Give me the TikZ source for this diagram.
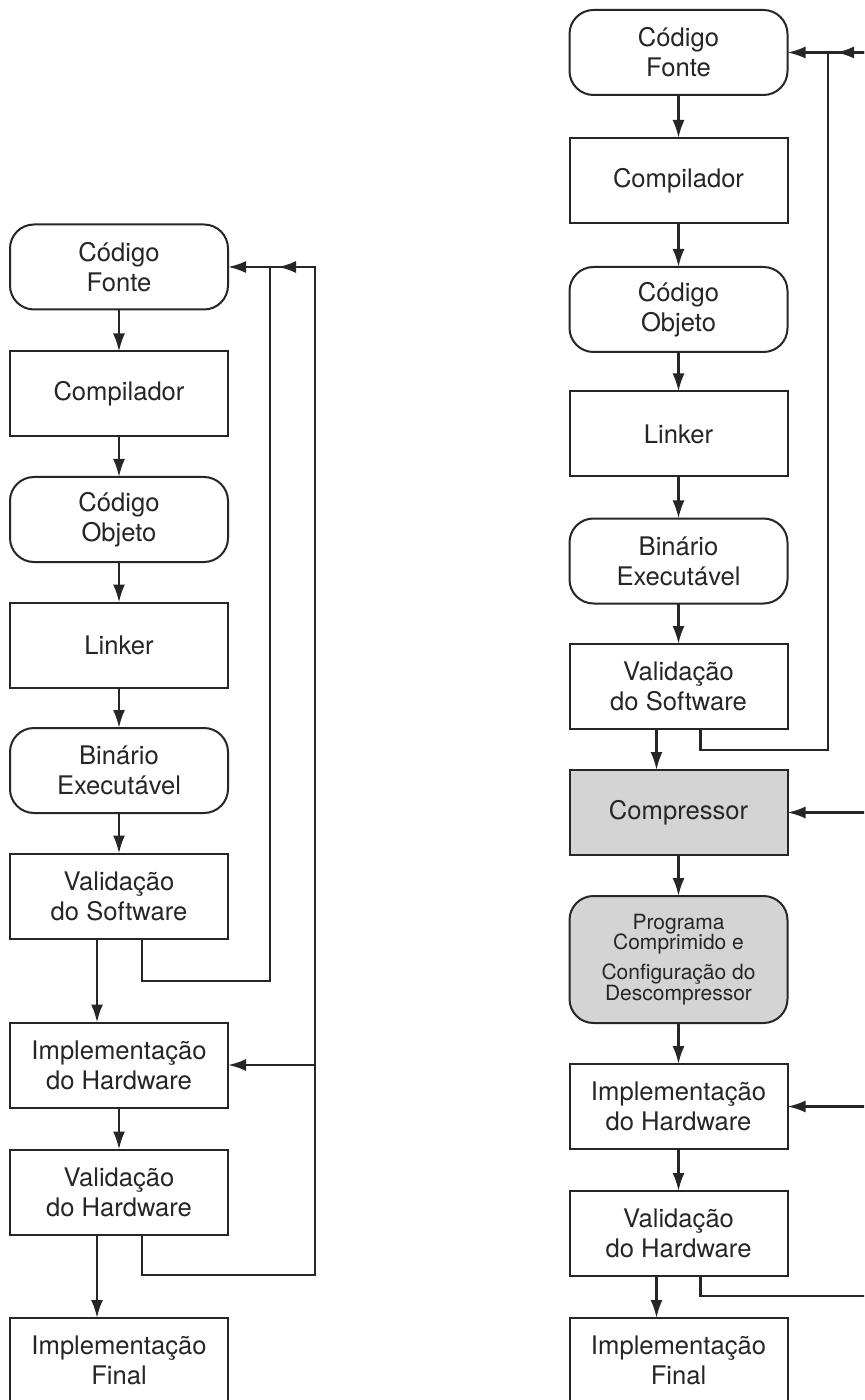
\documentclass[tikz,border=0pt]{standalone}
\usepackage{fontspec}
\setmainfont{TeX Gyre Heros}
\usetikzlibrary{arrows.meta,calc}

\tikzset{
  stage/.style={draw=black!85, line width=1pt, inner sep=0pt, outer sep=0pt,
    minimum width=109pt, minimum height=42.5pt, align=center, text=black!85,
    font=\fontsize{12.8pt}{15pt}\selectfont},
  datum/.style={stage, rounded corners=12pt},
  shaded/.style={fill=black!17},
  wire/.style={draw=black!85, line width=1.2pt},
  arr/.style={wire, -{Latex[length=9pt,width=6pt]}}
}

\begin{document}
\begin{tikzpicture}[x=0.5pt,y=-0.5pt]
  \clip (0,0) rectangle (864,1400);
  \fill[white] (0,0) rectangle (864,1400);

  % ---------- left flow ----------
  \node[datum] (LFonte)  at (119,267)    {Código\\Fonte};
  \node[stage] (LComp)   at (119,394)    {Compilador};
  \node[datum] (LObj)    at (119,519.5)  {Código\\Objeto};
  \node[stage] (LLink)   at (119,645)    {Linker};
  \node[datum] (LBin)    at (119,770.5)  {Binário\\Executável};
  \node[stage] (LValSW)  at (119,896)    {Validação\\do Software};
  \node[stage] (LImplHW) at (119,1065)   {Implementação\\do Hardware};
  \node[stage] (LValHW)  at (119,1192)   {Validação\\do Hardware};
  \node[stage] (LFinal)  at (119,1360.5) {Implementação\\Final};

  \draw[arr] (LFonte) -- (LComp);
  \draw[arr] (LComp) -- (LObj);
  \draw[arr] (LObj) -- (LLink);
  \draw[arr] (LLink) -- (LBin);
  \draw[arr] (LBin) -- (LValSW);
  \draw[arr] ($(LValSW.south)+(-22,0)$) -- ($(LImplHW.north)+(-22,0)$);
  \draw[arr] (LImplHW) -- (LValHW);
  \draw[arr] ($(LValHW.south)+(-22,0)$) -- ($(LFinal.north)+(-22,0)$);

  % feedback loops of the left flow
  \coordinate (Ljin)  at (270,267);
  \coordinate (Ljout) at (315,267);
  \coordinate (Lb1)   at (270,981);
  \coordinate (Lb2)   at (315,1275);
  \draw[wire] ($(LValSW.south)+(23,0)$) |- (Lb1) -- (Ljin);
  \draw[arr] (Ljin) -- (LFonte.east);
  \draw[wire] ($(LValHW.south)+(23,0)$) |- (Lb2) -- (Ljout) -- (Ljin);
  \draw[arr] (Ljout) -- ($(Ljin)+(8,0)$);
  \draw[arr] (LImplHW.east -| Ljout) -- (LImplHW.east);

  % ---------- right flow ----------
  \node[datum] (RFonte)  at (678.5,52.5)   {Código\\Fonte};
  \node[stage] (RComp)   at (678.5,180.5)  {Compilador};
  \node[datum] (RObj)    at (678.5,309.5)  {Código\\Objeto};
  \node[stage] (RLink)   at (678.5,434)    {Linker};
  \node[datum] (RBin)    at (678.5,561)    {Binário\\Executável};
  \node[stage] (RValSW)  at (678.5,686.5)  {Validação\\do Software};
  \node[stage, shaded] (RCompr) at (678.5,812.5) {Compressor};
  \node[datum, shaded, minimum height=63.5pt,
        font=\fontsize{10.5pt}{10.3pt}\selectfont] (RProg) at (678.5,959.5)
        {Programa\\Comprimido e\\[4.7pt]Configuração do\\Descompressor};
  \node[stage] (RImplHW) at (678.5,1106.5) {Implementação\\do Hardware};
  \node[stage] (RValHW)  at (678.5,1233.5) {Validação\\do Hardware};
  \node[stage] (RFinal)  at (678.5,1360.5) {Implementação\\Final};

  \draw[arr] (RFonte) -- (RComp);
  \draw[arr] (RComp) -- (RObj);
  \draw[arr] (RObj) -- (RLink);
  \draw[arr] (RLink) -- (RBin);
  \draw[arr] (RBin) -- (RValSW);
  \draw[arr] ($(RValSW.south)+(-22,0)$) -- ($(RCompr.north)+(-22,0)$);
  \draw[arr] (RCompr) -- (RProg);
  \draw[arr] (RProg) -- (RImplHW);
  \draw[arr] (RImplHW) -- (RValHW);
  \draw[arr] ($(RValHW.south)+(-22,0)$) -- ($(RFinal.north)+(-22,0)$);

  % feedback loops of the right flow, leaving past the right edge
  \coordinate (Rjin)   at (828,52.5);
  \coordinate (Rb1)    at (828,750);
  \coordinate (Redge1) at (868,52.5);
  \coordinate (Redge4) at (868,1296);
  \draw[wire] ($(RValSW.south)+(22,0)$) |- (Rb1) -- (Rjin);
  \draw[arr] (Rjin) -- (RFonte.east);
  \draw[wire] (Redge1) -- (Rjin);
  \draw[arr] (Redge1) -- ($(Rjin)+(8,0)$);
  \draw[arr] (RCompr.east -| Redge1) -- (RCompr.east);
  \draw[arr] (RImplHW.east -| Redge1) -- (RImplHW.east);
  \draw[wire] ($(RValHW.south)+(22,0)$) |- (Redge4);
\end{tikzpicture}
\end{document}
